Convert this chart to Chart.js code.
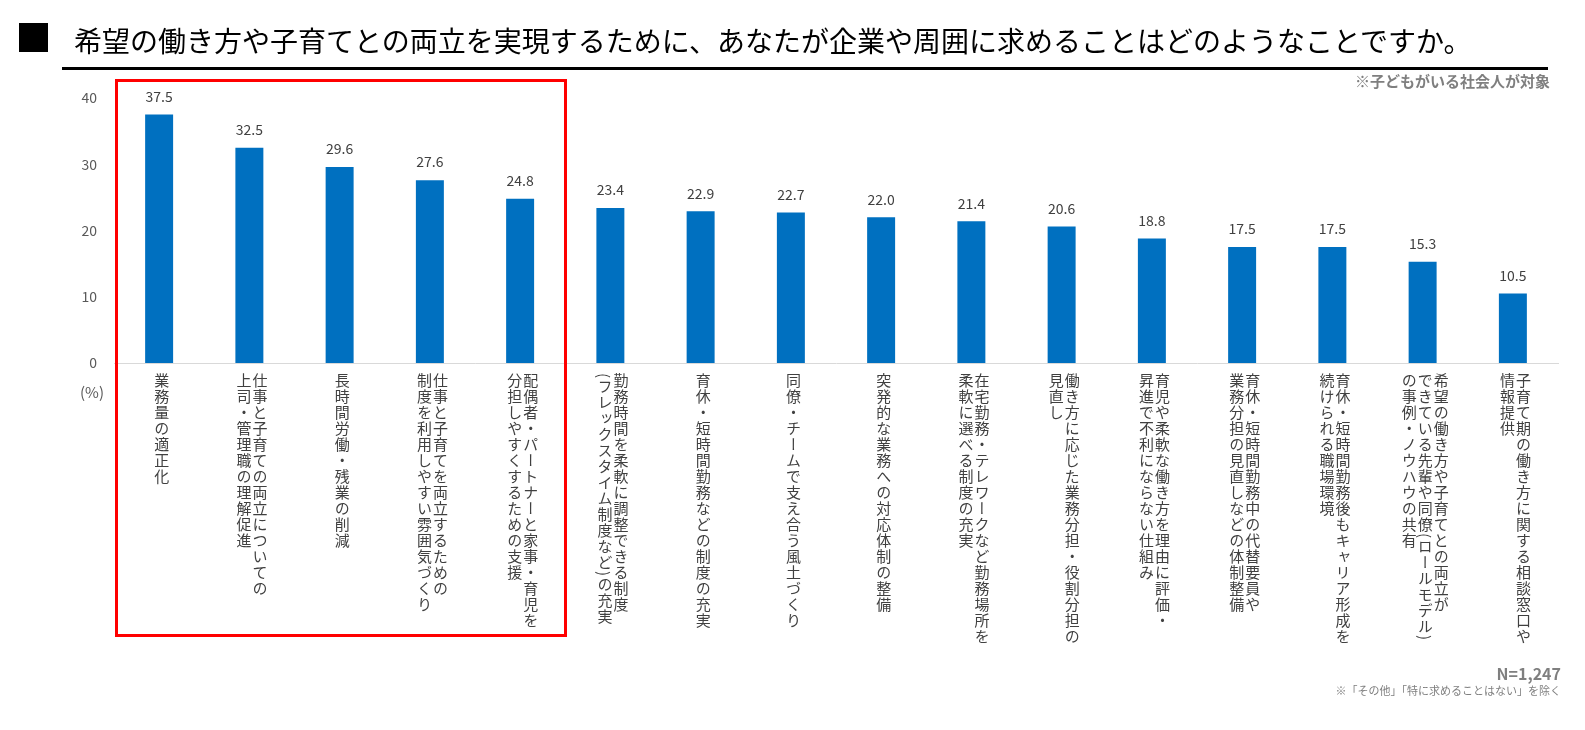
<!DOCTYPE html>
<html>
<head>
<meta charset="utf-8">
<script src="https://cdn.jsdelivr.net/npm/chart.js"></script>
<style>
body { margin: 0; background: #fff; font-family: "Noto Sans CJK JP", sans-serif; }
#wrap { position: relative; width: 1585px; height: 730px; overflow: hidden; }
#chart { position: absolute; left: 0; top: 0; }
.sq { position: absolute; left: 19px; top: 23px; width: 29px; height: 29px; background: #000; }
.title { position: absolute; left: 74px; top: 23px; font-size: 28px; line-height: 34px; color: #000; white-space: nowrap; }
.rule { position: absolute; left: 62px; top: 67px; width: 1486px; height: 3px; background: #000; }
.target { position: absolute; right: 35px; top: 71px; font-size: 15px; line-height: 20px; font-weight: bold; color: #7f7f7f; }
.pct { position: absolute; left: 80px; top: 381px; font-size: 15px; line-height: 22px; color: #595959; }
.redbox { position: absolute; left: 115px; top: 79px; width: 446px; height: 552px; border: 3px solid #ff0000; }
.nval { position: absolute; right: 24px; top: 662px; font-size: 16px; line-height: 22px; font-weight: bold; color: #7f7f7f; }
.foot { position: absolute; right: 24px; top: 682px; font-size: 11px; line-height: 16px; color: #7f7f7f; }
.vlabel { position: absolute; writing-mode: vertical-rl; transform: translateX(-50%); font-size: 15px; line-height: 16px; letter-spacing: 1px; color: #404040; white-space: nowrap; }
</style>
</head>
<body>
<div id="wrap">
  <canvas id="chart" width="1585" height="730"></canvas>
  <div class="sq"></div>
  <div class="title">希望の働き方や子育てとの両立を実現するために、あなたが企業や周囲に求めることはどのようなことですか。</div>
  <div class="rule"></div>
  <div class="target">※子どもがいる社会人が対象</div>
  <div class="pct">(%)</div>
  <div class="redbox"></div>
  <div id="labels"></div>
  <div class="nval">N=1,247</div>
  <div class="foot">※「その他」「特に求めることはない」を除く</div>
</div>
<script>
// category labels, one entry per vertical column (right to left)
var categories = [
  ["業務量の適正化"],
  ["仕事と子育ての両立についての", "上司・管理職の理解促進"],
  ["長時間労働・残業の削減"],
  ["仕事と子育てを両立するための", "制度を利用しやすい雰囲気づくり"],
  ["配偶者・パートナーと家事・育児を", "分担しやすくするための支援"],
  ["勤務時間を柔軟に調整できる制度", "(フレックスタイム制度など)の充実"],
  ["育休・短時間勤務などの制度の充実"],
  ["同僚・チームで支え合う風土づくり"],
  ["突発的な業務への対応体制の整備"],
  ["在宅勤務・テレワークなど勤務場所を", "柔軟に選べる制度の充実"],
  ["働き方に応じた業務分担・役割分担の", "見直し"],
  ["育児や柔軟な働き方を理由に評価・", "昇進で不利にならない仕組み"],
  ["育休・短時間勤務中の代替要員や", "業務分担の見直しなどの体制整備"],
  ["育休・短時間勤務後もキャリア形成を", "続けられる職場環境"],
  ["希望の働き方や子育てとの両立が", "できている先輩や同僚(ロールモデル)", "の事例・ノウハウの共有"],
  ["子育て期の働き方に関する相談窓口や", "情報提供"]
];
var values = [37.5, 32.5, 29.6, 27.6, 24.8, 23.4, 22.9, 22.7, 22.0, 21.4, 20.6, 18.8, 17.5, 17.5, 15.3, 10.5];
var yTicks = [0, 10, 20, 30, 40];

var FONT = '"Noto Sans CJK JP", sans-serif';

var valueLabels = {
  id: 'valueLabels',
  afterDatasetsDraw: function(chart) {
    var ctx = chart.ctx;
    var meta = chart.getDatasetMeta(0);
    ctx.save();
    ctx.font = '14px ' + FONT;
    ctx.fillStyle = '#404040';
    ctx.textAlign = 'center';
    ctx.textBaseline = 'middle';
    meta.data.forEach(function(bar, i) {
      ctx.fillText(values[i].toFixed(1), bar.x, bar.y - 18);
    });
    ctx.restore();
  }
};

// vertical (tategaki) category labels placed from the x scale
var verticalLabels = {
  id: 'verticalLabels',
  afterDraw: function(chart) {
    var xs = chart.scales.x;
    var host = document.getElementById('labels');
    host.innerHTML = '';
    categories.forEach(function(lines, i) {
      var d = document.createElement('div');
      d.className = 'vlabel';
      lines.forEach(function(t, k) {
        if (k) d.appendChild(document.createElement('br'));
        d.appendChild(document.createTextNode(t));
      });
      d.style.left = (xs.getPixelForValue(i) + 2) + 'px';
      d.style.top = (chart.chartArea.bottom + 10) + 'px';
      host.appendChild(d);
    });
  }
};

var ctx = document.getElementById('chart');
var myChart = new Chart(ctx, {
  type: 'bar',
  data: {
    labels: categories.map(function(l) { return l.join(''); }),
    datasets: [{
      data: values,
      backgroundColor: '#0070C0',
      borderWidth: 0,
      categoryPercentage: 1,
      barPercentage: 0.31
    }]
  },
  options: {
    responsive: false,
    animation: false,
    layout: { padding: { left: 64, right: 27, top: 98, bottom: 357 } },
    plugins: { legend: { display: false }, tooltip: { enabled: false } },
    scales: {
      x: {
        grid: { display: false },
        border: { display: true, color: '#D9D9D9', width: 1 },
        ticks: { display: false },
        afterFit: function(s) { s.height = 10; }
      },
      y: {
        min: yTicks[0],
        max: yTicks[yTicks.length - 1],
        afterBuildTicks: function(s) { s.ticks = yTicks.map(function(v) { return { value: v }; }); },
        ticks: { padding: 17, color: '#595959', font: { size: 14, family: FONT } },
        grid: { display: false, drawTicks: false },
        border: { display: false },
        afterFit: function(s) { s.width = 50; }
      }
    }
  },
  plugins: [valueLabels, verticalLabels]
});
</script>
</body>
</html>
